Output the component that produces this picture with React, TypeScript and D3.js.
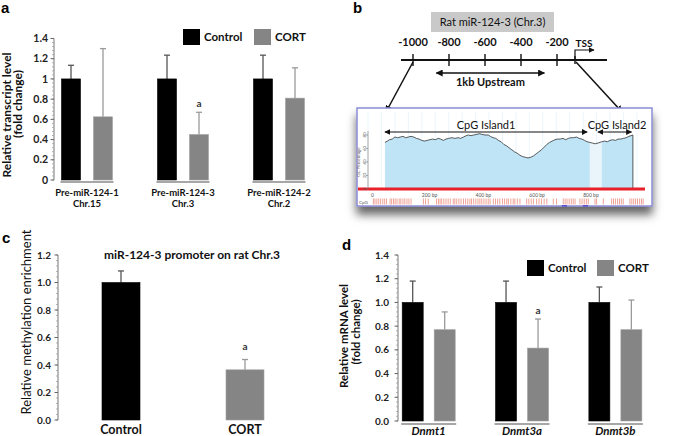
import React from "react";
import * as d3 from "d3";

const FONT = "Lato, 'Open Sans', sans-serif";
const LETTER_FONT = "'Liberation Sans', Arial, sans-serif";

const seriesNames = ["Control", "CORT"];
const seriesColors = ["#000000", "#858585"];
const errColors = ["#555555", "#9a9a9a"];

// ---------- Panel a ----------
const groupsA = ["Pre-miR-124-1", "Pre-miR-124-3", "Pre-miR-124-2"];
const chrA = ["Chr.15", "Chr.3", "Chr.2"];
const controlA = [1, 1, 1];
const controlErrA = [0.135, 0.235, 0.235];
const cortA = [0.625, 0.45, 0.81];
const cortErrA = [0.675, 0.22, 0.3];
const sigA = [false, true, false];
const ticksA = [0, 0.2, 0.4, 0.6, 0.8, 1, 1.2, 1.4];

// ---------- Panel b ----------
const scaleTicksB = [-1000, -800, -600, -400, -200];
const tssPosB = -100;
const upstreamB = [-870, -270];
const diagramTitleB = "Rat miR-124-3 (Chr.3)";
const gcBp = [63, 72, 80, 90, 100, 110, 120, 130, 140, 150, 160, 170, 180, 190, 200, 210, 220, 230, 240, 250, 261, 270, 280, 290, 300, 312, 323, 335, 345, 355, 365, 373, 383, 393, 405, 415, 423, 435, 447, 455, 465, 475, 485, 495, 505, 515, 525, 535, 545, 555, 565, 575, 585, 595, 605, 615, 625, 635, 645, 655, 665, 675, 685, 695, 705, 715, 725, 735, 745, 755, 765, 775, 785, 795, 805, 815, 825, 835, 845, 855, 869, 880, 890, 900, 910, 920, 930, 940, 950, 960, 970, 978, 985];
const gcPct = [69, 71, 73, 74, 77, 76, 77, 78, 76, 77, 78, 77, 75, 74, 72, 71, 72, 73, 74, 73, 75, 74, 72, 74, 75, 76, 75, 76, 75, 77, 79, 80, 79, 80, 81, 82, 81, 80, 80, 78, 76, 75, 72, 70, 66, 64, 61, 58, 55, 53, 50, 48, 47, 46, 47, 49, 52, 55, 58, 62, 66, 69, 71, 73, 74, 74, 75, 73, 75, 76, 76, 77, 75, 74, 72, 70, 69, 68, 67, 68, 70, 71, 70, 72, 73, 72, 74, 74, 75, 76, 78, 79, 80];
const island1B = [63, 825];
const island2B = [869, 985];
const islandArrow1B = [63, 815];
const islandArrow2B = [855, 980];
const cpgSites = [20, 26, 33, 40, 47, 55, 62, 69, 82, 88, 95, 101, 108, 116, 122, 130, 137, 145, 152, 160, 206, 214, 224, 255, 262, 268, 274, 282, 290, 298, 306, 317, 323, 330, 338, 346, 355, 363, 371, 379, 385, 393, 401, 409, 416, 423, 431, 439, 447, 454, 466, 474, 482, 490, 500, 508, 516, 522, 531, 540, 546, 555, 565, 590, 598, 607, 615, 627, 636, 645, 655, 665, 689, 701, 726, 733, 740, 748, 756, 763, 770, 788, 796, 804, 812, 819, 844, 850, 875, 906, 913, 920, 928, 935, 942, 949, 974, 981, 988, 995, 1002, 1010, 1017, 1023];
const cpgBlue = [[721, 740], [799, 818]];
const bpTicks = [0, 200, 400, 600, 800];
const gcTicks = [0, 20, 40, 60, 80];
const gridBp = d3.range(0, 1001, 50);

// ---------- Panel c ----------
const catsC = ["Control", "CORT"];
const valsC = [1.0, 0.365];
const errC = [0.084, 0.075];
const sigC = [false, true];
const ticksC = [0, 0.2, 0.4, 0.6, 0.8, 1.0, 1.2];

// ---------- Panel d ----------
const genesD = ["Dnmt1", "Dnmt3a", "Dnmt3b"];
const controlD = [1, 1, 1];
const controlErrD = [0.18, 0.18, 0.13];
const cortD = [0.77, 0.615, 0.77];
const cortErrD = [0.15, 0.245, 0.25];
const sigD = [false, true, false];
const ticksD = [0, 0.2, 0.4, 0.6, 0.8, 1.0, 1.2, 1.4];

type AxisProps = {
  x: number;
  y: d3.ScaleLinear<number, number>;
  ticks: number[];
  fmt: (v: number) => string;
  labelRight: number;
  fontSize: number;
};

function YAxis({ x, y, ticks, fmt, labelRight, fontSize }: AxisProps) {
  const [d0, d1] = y.domain();
  const minor = d3.range(d0, d1 + 1e-9, 0.04);
  return (
    <g>
      <line x1={x} x2={x} y1={y(d0)} y2={y(d1)} stroke="#777" strokeWidth={1} />
      {minor.map((m, i) => (
        <line key={"m" + i} x1={x - 2} x2={x} y1={y(m)} y2={y(m)} stroke="#999" strokeWidth={0.7} />
      ))}
      {ticks.map((t, i) => (
        <g key={i}>
          <line x1={x - 3.5} x2={x} y1={y(t)} y2={y(t)} stroke="#666" strokeWidth={1} />
          <text x={labelRight} y={y(t) + fontSize * 0.35} textAnchor="end" fontSize={fontSize} fontWeight="bold" fill="#222" fontFamily={FONT}>
            {fmt(t)}
          </text>
        </g>
      ))}
    </g>
  );
}

function ErrBar({ x, y0, y1, color, cap }: { x: number; y0: number; y1: number; color: string; cap: number }) {
  return (
    <g stroke={color} strokeWidth={1.3}>
      <line x1={x} x2={x} y1={y0} y2={y1} />
      <line x1={x - cap} x2={x + cap} y1={y1} y2={y1} />
    </g>
  );
}

function GroupedBars({
  groups, series, errs, sig, xBand, inner, y, barW, baseLineY,
}: {
  groups: string[]; series: number[][]; errs: number[][]; sig: boolean[];
  xBand: d3.ScaleBand<string>; inner: d3.ScaleBand<string>; y: d3.ScaleLinear<number, number>; barW: number; baseLineY: number;
}) {
  return (
    <g>
      {groups.map((g, gi) => {
        const gx = xBand(g)!;
        const cx0 = gx + inner(seriesNames[0])! + inner.bandwidth() / 2;
        const cx1 = gx + inner(seriesNames[1])! + inner.bandwidth() / 2;
        return (
          <g key={g}>
            <line x1={cx0 - barW / 2 - 1} x2={cx1 + barW / 2 + 1} y1={baseLineY} y2={baseLineY} stroke="#8a8a8a" strokeWidth={1.4} />
            {seriesNames.map((s, si) => {
              const cx = gx + inner(s)! + inner.bandwidth() / 2;
              const v = series[si][gi];
              const e = errs[si][gi];
              return (
                <g key={s}>
                  <ErrBar x={cx} y0={y(v)} y1={y(v + e)} color={errColors[si]} cap={3} />
                  <rect x={cx - barW / 2} y={y(v)} width={barW} height={y(0) - y(v)} fill={seriesColors[si]} stroke={si === 1 ? "#a0a0a0" : "#000"} strokeWidth={0.6} />
                  {si === 1 && sig[gi] ? (
                    <text x={cx} y={y(v + e) - 5} textAnchor="middle" fontSize={10} fontWeight="bold" fill="#333" fontFamily={FONT}>a</text>
                  ) : null}
                </g>
              );
            })}
          </g>
        );
      })}
    </g>
  );
}

function Legend({ x, y, gap }: { x: number; y: number; gap: number }) {
  return (
    <g>
      {seriesNames.map((s, i) => (
        <g key={s} transform={`translate(${x + i * gap},${y})`}>
          <rect x={0} y={0} width={17} height={16} fill={seriesColors[i]} />
          <text x={21} y={12} fontSize={11.5} fontWeight="bold" fill="#111" fontFamily={FONT}>{s}</text>
        </g>
      ))}
    </g>
  );
}

function PanelA() {
  const y = d3.scaleLinear().domain([0, 1.4]).range([180, 38.5]);
  const xBand = d3.scaleBand<string>().domain(groupsA).range([39, 327]);
  const inner = d3.scaleBand<string>().domain(seriesNames).range([16, 80]);
  return (
    <g>
      <text x={1} y={13} fontSize={15} fontWeight="bold" fontFamily={LETTER_FONT}>a</text>
      <YAxis x={54} y={y} ticks={ticksA} fmt={(v) => d3.format("~g")(v)} labelRight={48} fontSize={10.5} />
      <GroupedBars groups={groupsA} series={[controlA, cortA]} errs={[controlErrA, cortErrA]} sig={sigA} xBand={xBand} inner={inner} y={y} barW={19} baseLineY={182} />
      {groupsA.map((g, i) => (
        <g key={g}>
          <text x={xBand(g)! + xBand.bandwidth() / 2} y={196} textAnchor="middle" fontSize={9.5} fontWeight="bold" fill="#111" fontFamily={FONT}>{g}</text>
          <text x={xBand(g)! + xBand.bandwidth() / 2} y={206.5} textAnchor="middle" fontSize={9.5} fontWeight="bold" fill="#111" fontFamily={FONT}>{chrA[i]}</text>
        </g>
      ))}
      <text transform="translate(11,115) rotate(-90)" textAnchor="middle" fontSize={12} fontWeight="bold" fill="#111" fontFamily={FONT}>Relative transcript level</text>
      <text transform="translate(22,104) rotate(-90)" textAnchor="middle" fontSize={12} fontWeight="bold" fill="#111" fontFamily={FONT}>(fold change)</text>
      <Legend x={183} y={29} gap={71} />
    </g>
  );
}

function PanelB() {
  const sx = d3.scaleLinear().domain([-1000, -200]).range([413, 557]);
  const lineY = 60;
  const bx = d3.scaleLinear().domain([0, 1030]).range([368, 645]);
  const gy = d3.scaleLinear().domain([0, 80]).range([189, 135]);
  const pts = gcBp.map((b, i) => [b, gcPct[i]] as [number, number]);
  const area = d3.area<[number, number]>().x((d) => bx(d[0])).y0(gy(0)).y1((d) => gy(d[1]));
  const line = d3.line<[number, number]>().x((d) => bx(d[0])).y((d) => gy(d[1]));
  const seg1 = pts.filter((p) => p[0] >= island1B[0] && p[0] <= island1B[1]);
  const segGap = pts.filter((p) => p[0] >= island1B[1] && p[0] <= island2B[0]);
  const seg2 = pts.filter((p) => p[0] >= island2B[0] && p[0] <= island2B[1]);
  const tssX = sx(tssPosB);
  const last = pts[pts.length - 1];
  return (
    <g>
      <defs>
        <marker id="arrB" viewBox="0 0 10 10" refX="9" refY="5" markerWidth="7" markerHeight="7" markerUnits="userSpaceOnUse" orient="auto-start-reverse">
          <path d="M0,0 L10,5 L0,10 z" fill="#111" />
        </marker>
        <marker id="arrS" viewBox="0 0 10 10" refX="9" refY="5" markerWidth="6" markerHeight="6" markerUnits="userSpaceOnUse" orient="auto-start-reverse">
          <path d="M0,0 L10,5 L0,10 z" fill="#111" />
        </marker>
        <filter id="shadowB" x="-10%" y="-20%" width="120%" height="170%">
          <feDropShadow dx="0" dy="8" stdDeviation="5" floodColor="#000" floodOpacity="0.6" />
        </filter>
      </defs>
      <text x={353} y={13} fontSize={15} fontWeight="bold" fontFamily={LETTER_FONT}>b</text>
      <rect x={431} y={12} width={123} height={20} fill="#c9c9c9" />
      <text x={492.5} y={25.5} textAnchor="middle" fontSize={11} fill="#111" fontFamily={FONT}>{diagramTitleB}</text>
      <line x1={401} x2={607} y1={lineY} y2={lineY} stroke="#111" strokeWidth={2} />
      {scaleTicksB.map((t) => (
        <g key={t}>
          <line x1={sx(t)} x2={sx(t)} y1={lineY - 6} y2={lineY + 6} stroke="#111" strokeWidth={1.4} />
          <text x={sx(t)} y={46} textAnchor="middle" fontSize={11} fontWeight="bold" fill="#111" fontFamily={FONT}>{t}</text>
        </g>
      ))}
      <line x1={tssX} x2={tssX} y1={lineY + 4} y2={lineY - 4} stroke="#111" strokeWidth={1.4} />
      <path d={`M${tssX},${lineY} L${tssX},${lineY - 10} L${tssX + 19},${lineY - 10}`} fill="none" stroke="#111" strokeWidth={1.2} markerEnd="url(#arrS)" />
      <text x={tssX + 9} y={47} textAnchor="middle" fontSize={10} fontWeight="bold" fill="#111" fontFamily={FONT}>TSS</text>
      <line x1={sx(upstreamB[0])} x2={sx(upstreamB[1])} y1={73} y2={73} stroke="#111" strokeWidth={1.4} markerStart="url(#arrB)" markerEnd="url(#arrB)" />
      <text x={(sx(upstreamB[0]) + sx(upstreamB[1])) / 2} y={86} textAnchor="middle" fontSize={11} fontWeight="bold" fill="#111" fontFamily={FONT}>1kb Upstream</text>
      <line x1={sx(-1000)} x2={386} y1={lineY + 2} y2={112} stroke="#111" strokeWidth={1.5} markerEnd="url(#arrB)" />
      <line x1={tssX + 1} x2={622} y1={lineY + 2} y2={112} stroke="#111" strokeWidth={1.5} markerEnd="url(#arrB)" />

      <rect x={357} y={108} width={295} height={98} fill="#fff" stroke="#8c8cd8" strokeWidth={1.5} filter="url(#shadowB)" />
      {gridBp.map((b) => (
        <line key={b} x1={bx(b)} x2={bx(b)} y1={112} y2={188} stroke="#e3f1fa" strokeWidth={0.7} />
      ))}
      <path d={area(seg1) || ""} fill="#bfe4f6" />
      <path d={area(segGap) || ""} fill="#e9f5fb" />
      <path d={area(seg2) || ""} fill="#bfe4f6" />
      <path d={line(pts) || ""} fill="none" stroke="#333" strokeWidth={0.8} />
      <line x1={bx(last[0])} x2={bx(last[0])} y1={gy(last[1])} y2={gy(0)} stroke="#333" strokeWidth={0.8} />
      <line x1={358} x2={645} y1={gy(0)} y2={gy(0)} stroke="#e8202a" strokeWidth={3.2} />
      <line x1={bx(0)} x2={bx(0)} y1={gy(80) - 4} y2={gy(0)} stroke="#777" strokeWidth={0.6} />
      {gcTicks.map((t) => (
        <g key={t}>
          <line x1={bx(0) - 2} x2={bx(0)} y1={gy(t)} y2={gy(t)} stroke="#777" strokeWidth={0.6} />
          <text transform={`translate(${bx(0) - 2.5},${gy(t)}) rotate(-90)`} textAnchor="middle" fontSize={4.5} fill="#555" fontFamily={FONT}>{t}</text>
        </g>
      ))}
      <text transform={`translate(${bx(0) - 8},${gy(40)}) rotate(-90)`} textAnchor="middle" fontSize={4.5} fill="#555" fontFamily={FONT}>GC Percentage</text>
      {bpTicks.map((t) => (
        <text key={t} x={bx(t) + (t === 0 ? 3 : 0)} y={197} fontSize={5} fill="#555" fontFamily={FONT}>{t === 0 ? "0" : `${t} bp`}</text>
      ))}
      <text x={359} y={203.5} fontSize={4.5} fill="#555" fontFamily={FONT}>CpG</text>
      {cpgSites.map((c, i) => (
        <line key={i} x1={bx(c)} x2={bx(c)} y1={198.5} y2={204.5} stroke="#ec8a7a" strokeWidth={0.8} />
      ))}
      {cpgBlue.map((r, i) => (
        <rect key={i} x={bx(r[0])} y={205} width={bx(r[1]) - bx(r[0])} height={1.6} fill="#5a4fd0" />
      ))}
      <line x1={bx(islandArrow1B[0])} x2={bx(islandArrow1B[1])} y1={132} y2={132} stroke="#111" strokeWidth={1} markerStart="url(#arrS)" markerEnd="url(#arrS)" />
      <text x={(bx(islandArrow1B[0]) + bx(islandArrow1B[1])) / 2} y={129} textAnchor="middle" fontSize={11} fill="#111" fontFamily={FONT}>CpG Island1</text>
      <line x1={bx(islandArrow2B[0])} x2={bx(islandArrow2B[1])} y1={132} y2={132} stroke="#111" strokeWidth={1} markerStart="url(#arrS)" markerEnd="url(#arrS)" />
      <text x={617} y={129} textAnchor="middle" fontSize={11} fill="#111" fontFamily={FONT}>CpG Island2</text>
    </g>
  );
}

function PanelC() {
  const y = d3.scaleLinear().domain([0, 1.2]).range([420, 255]);
  const x = d3.scaleBand<string>().domain(catsC).range([59, 307]);
  const barW = 38;
  return (
    <g>
      <text x={2} y={243} fontSize={15} fontWeight="bold" fontFamily={LETTER_FONT}>c</text>
      <YAxis x={58} y={y} ticks={ticksC} fmt={d3.format(".1f")} labelRight={51} fontSize={10} />
      <text x={192} y={259} textAnchor="middle" fontSize={12} fontWeight="bold" fill="#111" fontFamily={FONT}>miR-124-3 promoter on rat Chr.3</text>
      {catsC.map((c, i) => {
        const cx = x(c)! + x.bandwidth() / 2;
        const v = valsC[i];
        return (
          <g key={c}>
            <ErrBar x={cx} y0={y(v)} y1={y(v + errC[i])} color={errColors[i]} cap={3} />
            <rect x={cx - barW / 2} y={y(v)} width={barW} height={y(0) - y(v)} fill={seriesColors[i]} stroke={i === 1 ? "#a0a0a0" : "#000"} strokeWidth={0.6} />
            {sigC[i] ? <text x={cx} y={350} textAnchor="middle" fontSize={10} fontWeight="bold" fill="#333" fontFamily={FONT}>a</text> : null}
            <text x={cx} y={434} textAnchor="middle" fontSize={12.5} fontWeight="bold" fill="#111" fontFamily={FONT}>{c}</text>
          </g>
        );
      })}
      <text transform="translate(31,322) rotate(-90)" textAnchor="middle" fontSize={13} fill="#111" fontFamily={FONT}>Relative methylation enrichment</text>
    </g>
  );
}

function PanelD() {
  const y = d3.scaleLinear().domain([0, 1.4]).range([421, 255]);
  const xBand = d3.scaleBand<string>().domain(genesD).range([382, 662]);
  const inner = d3.scaleBand<string>().domain(seriesNames).range([14.7, 78.7]);
  return (
    <g>
      <text x={342} y={250} fontSize={15} fontWeight="bold" fontFamily={LETTER_FONT}>d</text>
      <YAxis x={398} y={y} ticks={ticksD} fmt={d3.format(".1f")} labelRight={389} fontSize={10} />
      <GroupedBars groups={genesD} series={[controlD, cortD]} errs={[controlErrD, cortErrD]} sig={sigD} xBand={xBand} inner={inner} y={y} barW={21} baseLineY={424} />
      {genesD.map((g) => (
        <text key={g} x={xBand(g)! + xBand.bandwidth() / 2} y={434.5} textAnchor="middle" fontSize={11.5} fontWeight="bold" fontStyle="italic" fill="#111" fontFamily={FONT}>{g}</text>
      ))}
      <text transform="translate(348,336) rotate(-90)" textAnchor="middle" fontSize={11.5} fontWeight="bold" fill="#111" fontFamily={FONT}>Relative mRNA level</text>
      <text transform="translate(360,332) rotate(-90)" textAnchor="middle" fontSize={11.5} fontWeight="bold" fill="#111" fontFamily={FONT}>(fold change)</text>
      <Legend x={527} y={260} gap={70} />
    </g>
  );
}

export default function App() {
  return (
    <div style={{ position: "absolute", left: 0, top: 0 }}>
      <svg width={685} height={436} style={{ display: "block", background: "#fff" }}>
        <PanelB />
        <PanelA />
        <PanelC />
        <PanelD />
      </svg>
    </div>
  );
}
